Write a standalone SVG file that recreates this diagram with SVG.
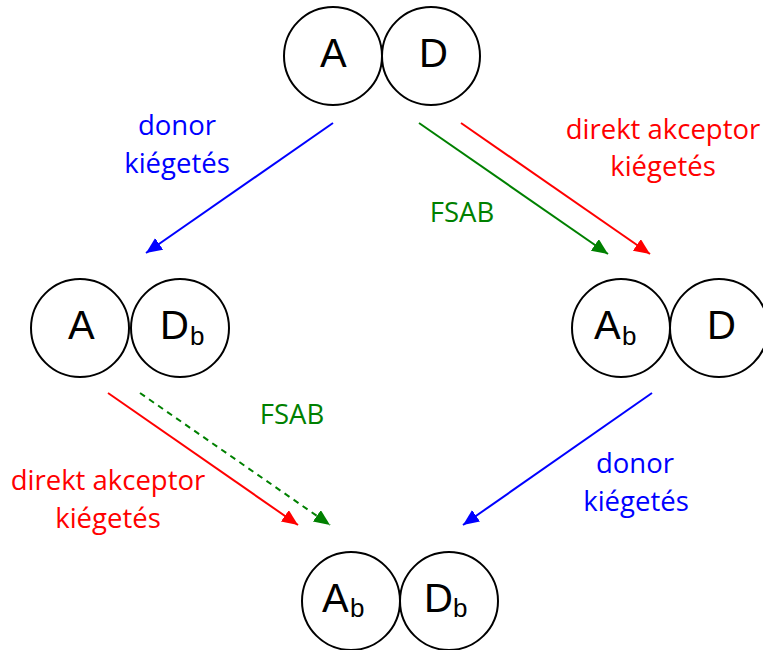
<svg xmlns="http://www.w3.org/2000/svg" width="763" height="650" viewBox="0 0 763 650">
<style>
.c{fill:#fff;stroke:#000;stroke-width:2}
.L{font-family:"Liberation Sans",Arial,sans-serif;font-size:40px;fill:#000}
.s{font-family:"Liberation Sans",Arial,sans-serif;font-size:26px;fill:#000}
.t{font-family:"Open Sans","Noto Sans",sans-serif;font-size:27.5px;text-anchor:middle}
.blue{fill:#0000ff}.red{fill:#ff0000}.green{fill:#008000}
.ln{stroke-width:2;fill:none}
</style>
<defs>
<marker id="ab" markerUnits="userSpaceOnUse" markerWidth="20" markerHeight="16" refX="16" refY="7" orient="auto"><path d="M0,0 L16,7 L0,14 Z" fill="#0000ff"/></marker>
<marker id="ar" markerUnits="userSpaceOnUse" markerWidth="20" markerHeight="16" refX="16" refY="7" orient="auto"><path d="M0,0 L16,7 L0,14 Z" fill="#ff0000"/></marker>
<marker id="ag" markerUnits="userSpaceOnUse" markerWidth="20" markerHeight="16" refX="16" refY="7" orient="auto"><path d="M0,0 L16,7 L0,14 Z" fill="#008000"/></marker>
</defs>
<g id="connectors">
<line class="ln" stroke="#0000ff" x1="333" y1="123" x2="146" y2="253" marker-end="url(#ab)"/>
<line class="ln" stroke="#008000" x1="419" y1="123" x2="608" y2="254" marker-end="url(#ag)"/>
<line class="ln" stroke="#ff0000" x1="461" y1="123" x2="650" y2="254" marker-end="url(#ar)"/>
<line class="ln" stroke="#ff0000" x1="108" y1="393" x2="298" y2="525" marker-end="url(#ar)"/>
<line class="ln" stroke="#008000" stroke-dasharray="6,5" x1="140" y1="393" x2="330" y2="525" marker-end="url(#ag)"/>
<line class="ln" stroke="#0000ff" x1="652" y1="393" x2="463" y2="525" marker-end="url(#ab)"/>
</g>
<g id="labels">
<text class="t blue" x="177" y="135">donor</text>
<text class="t blue" x="177" y="173">kiégetés</text>
<text class="t red" x="663" y="139">direkt akceptor</text>
<text class="t red" x="663" y="176">kiégetés</text>
<text class="t green" x="462" y="222">FSAB</text>
<text class="t green" x="292" y="424">FSAB</text>
<text class="t red" x="108" y="490">direkt akceptor</text>
<text class="t red" x="108" y="528">kiégetés</text>
<text class="t blue" x="635" y="473">donor</text>
<text class="t blue" x="636" y="511">kiégetés</text>
</g>
<g id="node-AD">
<circle class="c" cx="333" cy="56" r="49"/>
<circle class="c" cx="431" cy="56" r="49"/>
<text class="L" x="320" y="67">A</text>
<text class="L" x="419" y="67">D</text>
</g>
<g id="node-ADb">
<circle class="c" cx="80" cy="328" r="49"/>
<circle class="c" cx="180" cy="328" r="49"/>
<text class="L" x="68" y="339">A</text>
<text class="L" x="160" y="339">D</text>
<text class="s" x="190" y="345">b</text>
</g>
<g id="node-AbD">
<circle class="c" cx="621" cy="328" r="49"/>
<circle class="c" cx="719" cy="328" r="49"/>
<text class="L" x="594" y="339">A</text>
<text class="s" x="622" y="345">b</text>
<text class="L" x="707" y="339">D</text>
</g>
<g id="node-AbDb">
<circle class="c" cx="351" cy="601" r="49"/>
<circle class="c" cx="449" cy="601" r="49"/>
<text class="L" x="322" y="612">A</text>
<text class="s" x="350" y="617">b</text>
<text class="L" x="424" y="612">D</text>
<text class="s" x="453" y="617">b</text>
</g>
</svg>
